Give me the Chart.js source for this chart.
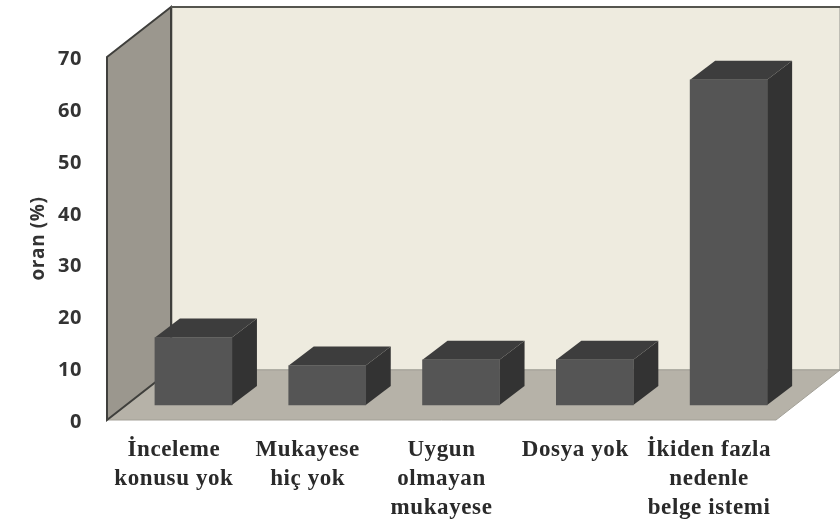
<!DOCTYPE html>
<html>
<head>
<meta charset="utf-8">
<style>
  html, body { margin: 0; padding: 0; background: #fff; }
  canvas { display: block; filter: blur(0.7px); }
</style>
<script src="https://cdn.jsdelivr.net/npm/chart.js@4"></script>
</head>
<body>
<canvas id="chart" width="840" height="521"></canvas>
<script>
// categories, multi-line like the reference
var categories = [
  ['İnceleme', 'konusu yok'],
  ['Mukayese', 'hiç yok'],
  ['Uygun', 'olmayan', 'mukayese'],
  ['Dosya yok'],
  ['İkiden fazla', 'nedenle', 'belge istemi']
];
var values = [13, 7.6, 8.7, 8.7, 62.7];
var yTicks = [0, 10, 20, 30, 40, 50, 60, 70];

// 3D look: depth of the room and of the bars, in px
var ROOM_DX = 64, ROOM_DY = 50;
var BAR_DX = 25, BAR_DY = 19;

function poly(ctx, pts, fill, stroke, lw) {
  ctx.beginPath();
  pts.forEach(function(p, i) { if (i) ctx.lineTo(p[0], p[1]); else ctx.moveTo(p[0], p[1]); });
  ctx.closePath();
  if (fill) { ctx.fillStyle = fill; ctx.fill(); }
  if (stroke) { ctx.strokeStyle = stroke; ctx.lineWidth = lw; ctx.stroke(); }
}

var room3d = {
  id: 'room3d',
  // the reference text is stretched sideways
  beforeDraw: function(chart) { chart.ctx.letterSpacing = '0.6px'; },
  beforeDatasetsDraw: function(chart) {
    var ctx = chart.ctx, a = chart.chartArea;
    var dx = ROOM_DX, dy = ROOM_DY;
    ctx.save();
    // back wall
    poly(ctx, [[a.left + dx + 1, a.top - dy], [a.right + dx, a.top - dy], [a.right + dx, a.bottom - dy], [a.left + dx + 1, a.bottom - dy]], '#eeebdf', '#8f8f88', 1);
    // floor
    poly(ctx, [[a.left, a.bottom], [a.right, a.bottom], [a.right + dx, a.bottom - dy], [a.left + dx, a.bottom - dy]], '#b6b2a8', '#a3a097', 1);
    // left wall
    poly(ctx, [[a.left, a.top], [a.left + dx, a.top - dy], [a.left + dx, a.bottom - dy], [a.left, a.bottom]], '#9b978e', '#3f3f3c', 2);
    // top edge of back wall is darker
    ctx.strokeStyle = '#55554f';
    ctx.lineWidth = 2;
    ctx.beginPath();
    ctx.moveTo(a.left + dx, a.top - dy);
    ctx.lineTo(a.right + dx, a.top - dy);
    ctx.stroke();

    // side and top faces of the bars, the front comes from the library
    chart.getDatasetMeta(0).data.forEach(function(bar) {
      var l = bar.x - bar.width / 2, r = bar.x + bar.width / 2;
      poly(ctx, [[r, bar.y], [r + BAR_DX, bar.y - BAR_DY], [r + BAR_DX, bar.base - BAR_DY], [r, bar.base]], '#333333');
      poly(ctx, [[l, bar.y], [l + BAR_DX, bar.y - BAR_DY], [r + BAR_DX, bar.y - BAR_DY], [r, bar.y]], '#3d3d3d');
    });
    ctx.restore();
  }
};

new Chart(document.getElementById('chart'), {
  type: 'bar',
  data: {
    labels: categories,
    datasets: [{
      data: values.map(function(v, i) { return { x: i, y: v }; }),
      xAxisID: 'xBars',
      yAxisID: 'yBars',
      backgroundColor: '#555555',
      borderWidth: 0,
      barThickness: 77
    }]
  },
  plugins: [room3d],
  options: {
    responsive: false,
    animation: false,
    layout: { padding: { top: 57, right: 64, left: 0, bottom: 0 } },
    plugins: { legend: { display: false }, tooltip: { enabled: false } },
    scales: {
      x: {
        type: 'category',
        labels: categories,
        offset: true,
        grid: { display: false, drawTicks: false },
        border: { display: false },
        afterFit: function(s) { s.height = 101; },
        ticks: {
          padding: 16,
          maxRotation: 0,
          minRotation: 0,
          autoSkip: false,
          color: '#2a2a2a',
          font: { family: "'Liberation Serif', serif", size: 23, weight: 'bold', lineHeight: 1.26 }
        }
      },
      y: {
        // labels sit about 3px lower than the wall corners in the reference
        min: 0.45,
        max: 70.45,
        afterFit: function(s) { s.width = 107; },
        afterBuildTicks: function(s) { s.ticks = yTicks.map(function(v) { return { value: v }; }); },
        grid: { display: false, drawTicks: false },
        border: { display: false },
        ticks: {
          padding: 25,
          autoSkip: false,
          color: '#333333',
          font: { family: "'Open Sans', sans-serif", size: 20, weight: 'bold' }
        },
        title: {
          display: true,
          text: 'oran (%)',
          color: '#333333',
          padding: { top: 27, bottom: 0 },
          font: { family: "'Open Sans', sans-serif", size: 19, weight: 'bold' }
        }
      },
      // bars stand on the floor, set back from the front edge, so they get their own hidden axes
      xBars: { type: 'linear', display: false, min: -0.646, max: 4.354, offset: false },
      yBars: { display: false, min: -2.9, max: 67.1 }
    }
  }
});
</script>
</body>
</html>
